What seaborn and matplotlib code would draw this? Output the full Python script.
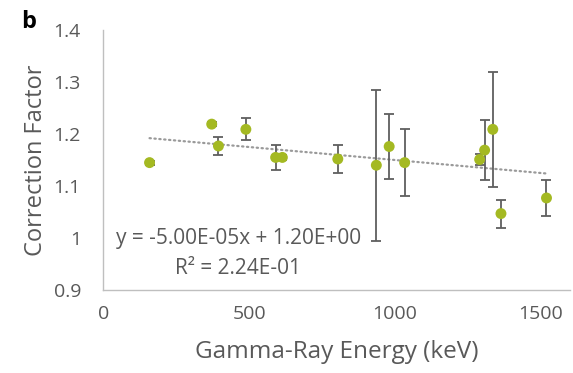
import numpy as np
import pandas as pd
import matplotlib
matplotlib.use("Agg")
import matplotlib.pyplot as plt
import seaborn as sns

# Gamma-ray lines and their measured correction factors
energy_kev = [159, 372, 395, 489, 591, 614, 804, 936, 980, 1033, 1290, 1307, 1335, 1363, 1519]
correction = [1.145, 1.219, 1.177, 1.209, 1.155, 1.155, 1.152, 1.140, 1.176, 1.145,
              1.151, 1.169, 1.209, 1.047, 1.077]
uncertainty = [0.004, 0.004, 0.018, 0.021, 0.024, 0.005, 0.027, 0.145, 0.062, 0.065,
               0.010, 0.057, 0.111, 0.027, 0.035]

# Linear trendline coefficients
slope = -5.00e-05
intercept = 1.20
r_squared = 0.224

x_ticks = [0, 500, 1000, 1500]
y_ticks = [0.9, 1.0, 1.1, 1.2, 1.3, 1.4]
y_tick_labels = ["0.9", "1", "1.1", "1.2", "1.3", "1.4"]

df = pd.DataFrame({"energy": energy_kev, "cf": correction, "err": uncertainty})

sns.set_theme(style="white")
plt.rcParams["font.family"] = ["Open Sans", "DejaVu Sans"]

text_color = "#595959"
marker_color = "#a4b922"

fig = plt.figure(figsize=(5.73, 3.73), dpi=100)
ax = fig.add_axes([0.18, 0.2225, 0.815, 0.697])

ax.errorbar(df["energy"], df["cf"], yerr=df["err"], fmt="none",
            ecolor="#5f5f5f", elinewidth=1.3, capsize=3.8, capthick=1.3, zorder=2)
sns.scatterplot(data=df, x="energy", y="cf", ax=ax, color=marker_color,
                s=62, edgecolor="none", zorder=3)

trend_x = np.linspace(min(energy_kev), max(energy_kev), 50)
trend = pd.DataFrame({"energy": trend_x, "cf": slope * trend_x + intercept})
sns.lineplot(data=trend, x="energy", y="cf", ax=ax, color="#9a9a9a",
             linewidth=1.6, linestyle=(0, (0.6, 1.6)), dash_capstyle="round", zorder=1)

ax.text(463, 1.0, f"y = {slope:.2E}x + {intercept:.2E}", ha="center", va="center",
        fontsize=15, color=text_color)
ax.text(463, 0.942, f"R² = {r_squared:.2E}", ha="center", va="center",
        fontsize=15, color=text_color)

ax.set_xlim(0, 1600)
ax.set_ylim(0.9, 1.4)
ax.set_xticks(x_ticks)
ax.set_yticks(y_ticks)
ax.set_yticklabels(y_tick_labels)
ax.tick_params(axis="both", labelsize=14, colors=text_color, length=0)
ax.tick_params(axis="x", pad=11)
ax.tick_params(axis="y", pad=16)

ax.set_xlabel("Gamma-Ray Energy (keV)", fontsize=17.5, color=text_color, labelpad=12)
ax.set_ylabel("Correction Factor", fontsize=17, color=text_color, labelpad=4)

for side in ["top", "right"]:
    ax.spines[side].set_visible(False)
for side in ["left", "bottom"]:
    ax.spines[side].set_color("#bfbfbf")
    ax.spines[side].set_linewidth(1.0)

fig.text(21 / 573, 1 - 28 / 373, "b", fontsize=17, fontweight="bold", color="black",
         ha="left", va="baseline")

fig.savefig("out.png", dpi=100)
